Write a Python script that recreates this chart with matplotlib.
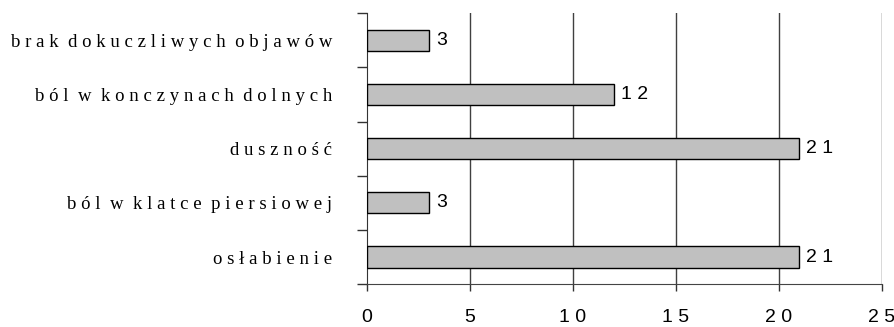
import numpy as np
import matplotlib
matplotlib.use("Agg")
import matplotlib.pyplot as plt

# data
categories = ["brak dokuczliwych objawów", "ból w konczynach dolnych", "duszność",
              "ból w klatce piersiowej", "osłabienie"]
values = [3, 12, 21, 3, 21]
x_ticks = [0, 5, 10, 15, 20, 25]


def spaced(s, gap=" "):
    """Mimic the letter-spaced look of the original labels"""
    return "  ".join(gap.join(w) for w in s.split())


fig = plt.figure(figsize=(8.95, 3.27), dpi=100)
ax = fig.add_axes([0.410, 0.131, 0.575, 0.829])

y = np.arange(len(categories))
bars = ax.barh(y, values, height=0.39, color="#c0c0c0", edgecolor="black",
               linewidth=1.0, zorder=3)

# value labels next to the bar ends
for yi, v in zip(y, values):
    ax.text(v + 0.35, yi, spaced(str(v)), va="center", ha="left",
            fontsize=14, family="Liberation Sans", zorder=4)

ax.set_xlim(0, 25)
ax.set_ylim(len(categories) - 0.5, -0.5)

ax.set_xticks(x_ticks)
ax.set_xticklabels([spaced(str(t)) for t in x_ticks], family="Liberation Sans",
                   fontsize=14)
ax.tick_params(axis="x", length=5, width=1, color="#333333", pad=13)

ax.set_yticks(y)
ax.set_yticklabels([spaced(c) for c in categories], family="Liberation Serif",
                   fontsize=13.5)
ax.set_yticks(np.arange(-0.5, len(categories)), minor=True)
ax.tick_params(axis="y", which="major", length=0, pad=25)
ax.tick_params(axis="y", which="minor", length=7.2, width=1, color="#333333")

for xv in x_ticks[1:]:
    ax.axvline(xv, color="#404040", linewidth=1.0, zorder=1)

for side in ["top", "right"]:
    ax.spines[side].set_visible(False)
ax.spines["left"].set_color("#333333")
ax.spines["bottom"].set_color("#444444")

fig.savefig("out.png", dpi=100)
